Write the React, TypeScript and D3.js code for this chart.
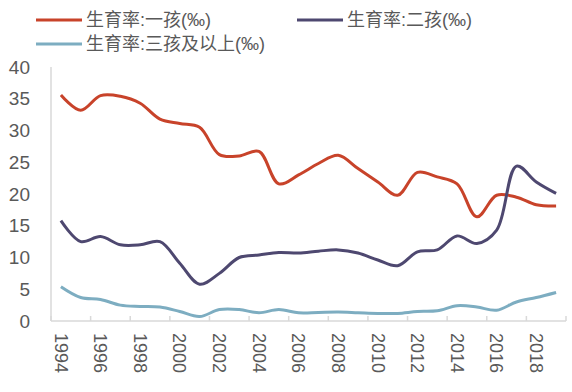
import React, { useEffect, useRef } from "react";
import * as d3 from "d3";

const years = [
  1994, 1995, 1996, 1997, 1998, 1999, 2000, 2001, 2002, 2003, 2004, 2005, 2006,
  2007, 2008, 2009, 2010, 2011, 2012, 2013, 2014, 2015, 2016, 2017, 2018, 2019,
];
const firstChild = [
  35.6, 33.2, 35.5, 35.4, 34.3, 31.8, 31.1, 30.5, 26.2, 26.0, 26.7, 21.6, 23.0,
  24.8, 26.1, 24.0, 21.9, 19.8, 23.4, 22.7, 21.6, 16.4, 19.8, 19.5, 18.3, 18.1,
];
const secondChild = [
  15.8, 12.5, 13.3, 12.0, 12.0, 12.5, 9.1, 5.8, 7.5, 10.0, 10.4, 10.8, 10.7,
  11.0, 11.2, 10.7, 9.6, 8.7, 10.9, 11.2, 13.4, 12.2, 14.3, 24.4, 21.9, 20.1,
];
const thirdPlus = [
  5.4, 3.7, 3.4, 2.5, 2.3, 2.2, 1.5, 0.7, 1.8, 1.8, 1.3, 1.8, 1.3,
  1.35, 1.4, 1.3, 1.2, 1.2, 1.5, 1.6, 2.4, 2.2, 1.7, 3.0, 3.7, 4.5,
];
const yTicks = [0, 5, 10, 15, 20, 25, 30, 35, 40];
const seriesNames = ["生育率:一孩(‰)", "生育率:二孩(‰)", "生育率:三孩及以上(‰)"];
const seriesColors = ["#C8432A", "#4E4870", "#7DADC1"];

const App = () => {
  const ref = useRef<SVGSVGElement>(null);

  useEffect(() => {
    const svg = d3.select(ref.current);
    svg.selectAll("*").remove();

    const width = 572;
    const height = 392;
    const margin = { top: 67, right: 6, bottom: 71, left: 51 };
    const latin = "'Liberation Sans', Arial, sans-serif";
    const cjk = "'Liberation Sans', 'Noto Sans CJK SC', sans-serif";

    const x = d3
      .scaleBand<number>()
      .domain(years)
      .range([margin.left, width - margin.right])
      .padding(0);

    const y = d3
      .scaleLinear()
      .domain([0, 40])
      .range([height - margin.bottom, margin.top]);

    const axisColor = "#D9D9D9";
    const textColor = "#595959";

    // y axis line + labels
    svg
      .append("line")
      .attr("x1", margin.left)
      .attr("x2", margin.left)
      .attr("y1", y(40))
      .attr("y2", y(0))
      .attr("stroke", axisColor)
      .attr("stroke-width", 1.5);

    svg
      .append("g")
      .selectAll("text")
      .data(yTicks)
      .enter()
      .append("text")
      .attr("x", 30)
      .attr("y", (d) => y(d))
      .attr("dy", "0.35em")
      .attr("text-anchor", "end")
      .attr("font-family", latin)
      .attr("font-size", 19)
      .attr("fill", textColor)
      .text((d) => d);

    // x axis
    const y0 = y(0);
    svg
      .append("line")
      .attr("x1", margin.left)
      .attr("x2", width - margin.right)
      .attr("y1", y0)
      .attr("y2", y0)
      .attr("stroke", axisColor)
      .attr("stroke-width", 1.5);

    const tickPos = years
      .filter((_, i) => i % 2 === 0)
      .map((yr) => x(yr) as number)
      .concat([width - margin.right]);

    svg
      .append("g")
      .selectAll("line")
      .data(tickPos)
      .enter()
      .append("line")
      .attr("x1", (d) => d)
      .attr("x2", (d) => d)
      .attr("y1", y0 - 5)
      .attr("y2", y0)
      .attr("stroke", axisColor)
      .attr("stroke-width", 1.5);

    svg
      .append("g")
      .selectAll("text")
      .data(years.filter((_, i) => i % 2 === 0))
      .enter()
      .append("text")
      .attr(
        "transform",
        (d) => `translate(${(x(d) as number) + x.bandwidth() / 2}, ${y0 + 12}) rotate(90)`
      )
      .attr("dy", "0.35em")
      .attr("text-anchor", "start")
      .attr("font-family", latin)
      .attr("font-size", 18)
      .attr("fill", textColor)
      .text((d) => d);

    // lines
    const line = d3
      .line<number>()
      .x((_, i) => (x(years[i]) as number) + x.bandwidth() / 2)
      .y((d) => y(d))
      .curve(d3.curveCatmullRom.alpha(0.5));

    [firstChild, secondChild, thirdPlus].forEach((vals, k) => {
      svg
        .append("path")
        .datum(vals)
        .attr("fill", "none")
        .attr("stroke", seriesColors[k])
        .attr("stroke-width", 3)
        .attr("stroke-linejoin", "round")
        .attr("d", line);
    });

    // legend
    const legendPos = [
      [36, 20],
      [297, 20],
      [36, 44],
    ];
    seriesNames.forEach((name, k) => {
      const [lx, ly] = legendPos[k];
      svg
        .append("line")
        .attr("x1", lx)
        .attr("x2", lx + 46)
        .attr("y1", ly)
        .attr("y2", ly)
        .attr("stroke", seriesColors[k])
        .attr("stroke-width", 3);
      svg
        .append("text")
        .attr("x", lx + 50)
        .attr("y", ly)
        .attr("dy", "0.35em")
        .attr("font-family", cjk)
        .attr("font-size", 18)
        .attr("fill", textColor)
        .text(name);
    });
  }, []);

  return (
    <svg
      ref={ref}
      width={572}
      height={392}
      style={{ position: "absolute", left: 0, top: 0, background: "#fff" }}
    />
  );
};

export default App;
